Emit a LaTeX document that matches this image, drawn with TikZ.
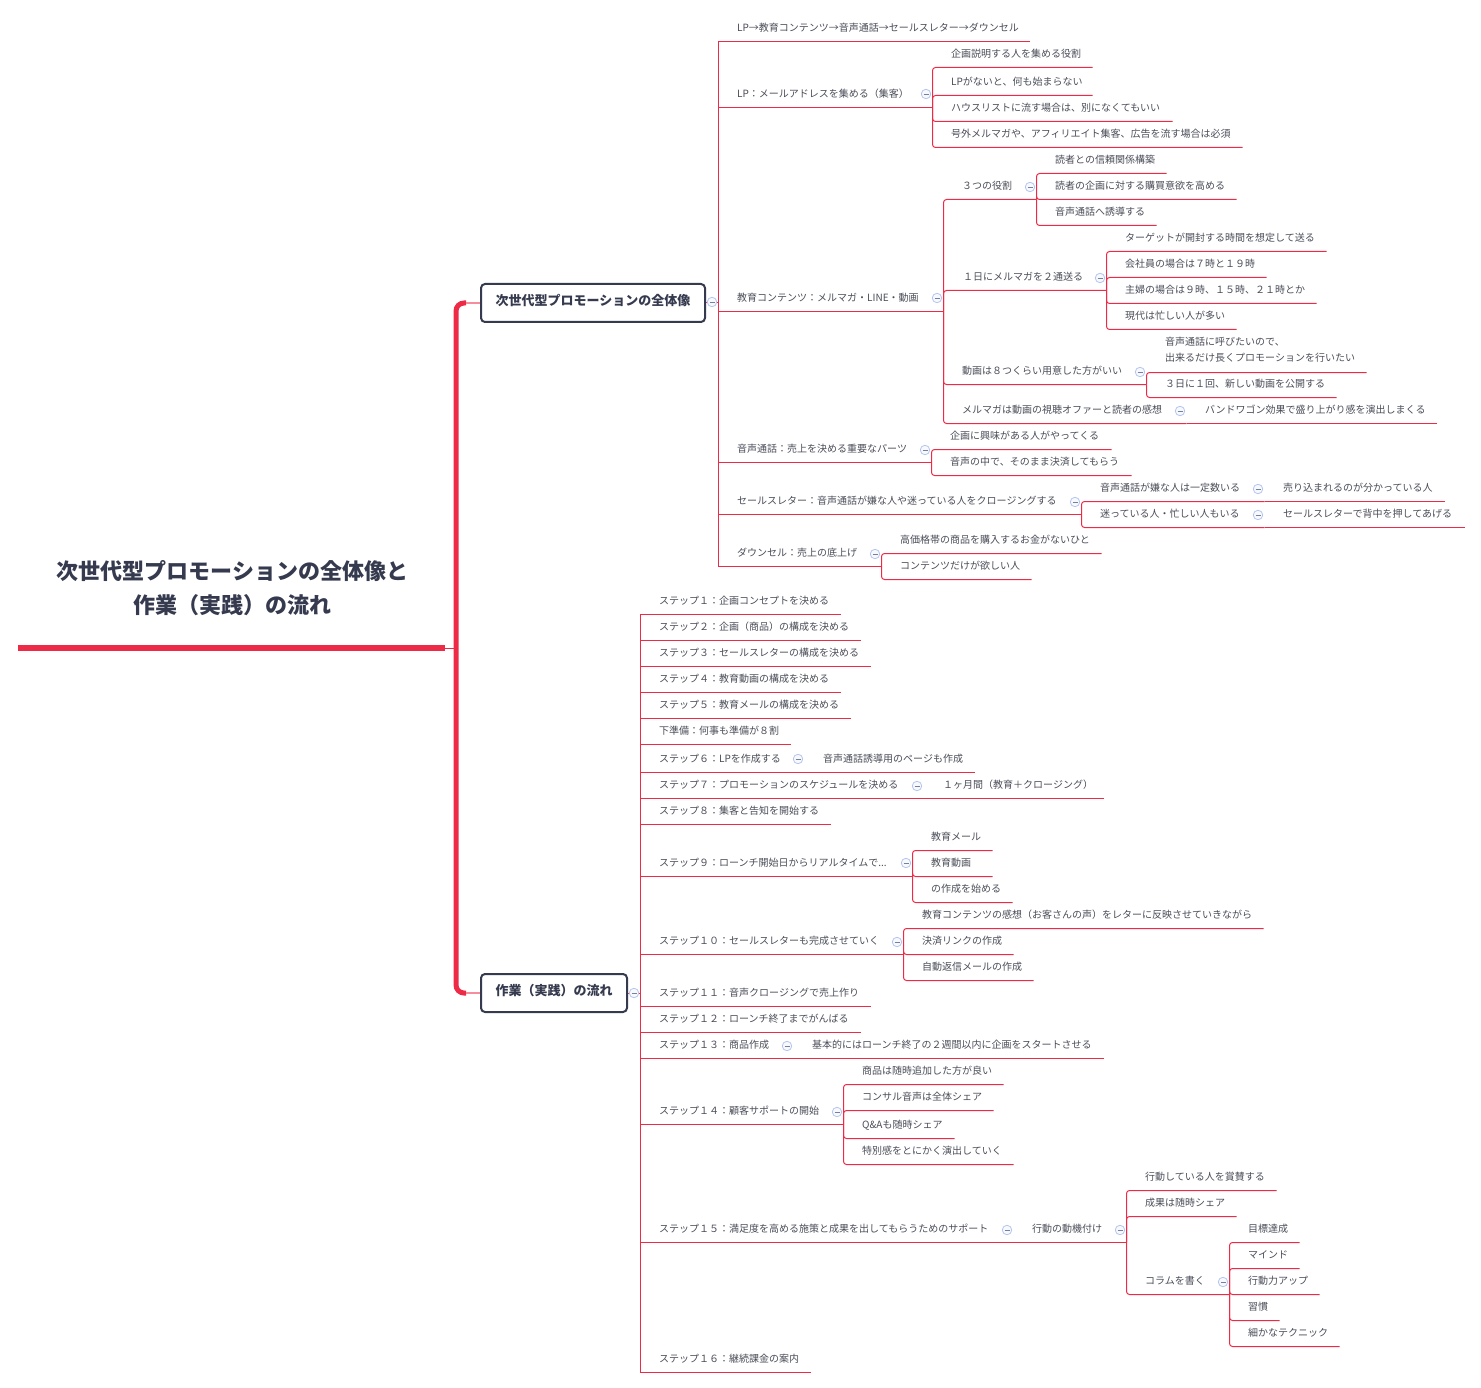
\documentclass[tikz,border=0pt]{standalone}
\usepackage{fontspec}
\setmainfont{Noto Sans CJK JP}
\definecolor{rosered}{HTML}{EE2B47}
\definecolor{rosepale}{HTML}{F68C9C}
\definecolor{slateink}{HTML}{353A4E}
\definecolor{leafink}{HTML}{4A4D58}
\definecolor{foldblue}{HTML}{B4C6EE}
\definecolor{foldfill}{HTML}{F7F9FE}
\tikzset{
	leaf/.style={inner sep=0pt, anchor=base west, yshift=-4.5pt, text=leafink, font=\fontsize{10}{16}\selectfont},
	bus/.style={rosered, line width=1pt},
	branch/.style={bus, rounded corners=3pt},
	bigbox/.style={draw=slateink, line width=2pt, rounded corners=4pt, fill=white, inner sep=0pt, text=slateink, text height=21.5pt, text depth=16.5pt, font=\fontsize{13}{16}\selectfont\bfseries},
	fold/.style={circle, draw=foldblue, fill=foldfill, line width=0.8pt, minimum size=9.5pt, inner sep=0pt, path picture={\draw[foldblue!50!slateink, line width=0.6pt] ([xshift=-2.5pt]path picture bounding box.center) -- ([xshift=2.5pt]path picture bounding box.center);}},
}
\begin{document}
\begin{tikzpicture}[x=1pt, y=-1pt]
	\useasboundingbox (0,0) rectangle (1481,1388);
	% Central topic and its bar
	\node[align=center, text=slateink, font=\fontsize{22}{34}\selectfont\bfseries] (root) at (232.5,588) {次世代型プロモーションの全体像と\\作業（実践）の流れ};
	\coordinate (barl) at (18,648);
	\coordinate (barr) at (445,648);
	\coordinate (trunk) at (456,648);
	\draw[rosered, line width=6pt] (barl) -- (barr);
	\draw[bus] (barr) -- (trunk);
	% The two main topics
	\node[bigbox, minimum width=224pt] (bigA) at (593,303) {次世代型プロモーションの全体像};
	\node[bigbox, minimum width=146pt] (bigB) at (554,993) {作業（実践）の流れ};
	\coordinate (forkA) at (466,303);
	\coordinate (forkB) at (466,993);
	\draw[rosered, line width=5pt, rounded corners=8pt] (trunk) |- (forkA);
	\draw[rosered, line width=5pt, rounded corners=8pt] (trunk) |- (forkB);
	\draw[rosepale, line width=2.5pt] (forkA) -- (bigA);
	\draw[rosepale, line width=2.5pt] (forkB) -- (bigB);
	\coordinate (bigA-e) at (718.5,303);
	\coordinate (bigB-e) at (640,993);
	\draw[bus] (bigA) -- (bigA-e);
	\draw[bus] (bigB) -- (bigB-e);
	% First level, square elbows
	\foreach \id/\up/\tx/\uy/\ex/\txt in {
		flow/bigA/737/41/1030/{LP→教育コンテンツ→音声通話→セールスレター→ダウンセル},
		lp/bigA/737/107/933/{LP：メールアドレスを集める（集客）},
		edu/bigA/737/311/944/{教育コンテンツ：メルマガ・LINE・動画},
		call/bigA/737/462/932/{音声通話：売上を決める重要なパーツ},
		letter/bigA/737/514/1082/{セールスレター：音声通話が嫌な人や迷っている人をクロージングする},
		down/bigA/737/566/882/{ダウンセル：売上の底上げ},
		stepa/bigB/659/614/841/{ステップ１：企画コンセプトを決める},
		stepb/bigB/659/640/861/{ステップ２：企画（商品）の構成を決める},
		stepc/bigB/659/666/871/{ステップ３：セールスレターの構成を決める},
		stepd/bigB/659/692/841/{ステップ４：教育動画の構成を決める},
		stepe/bigB/659/718/851/{ステップ５：教育メールの構成を決める},
		prep/bigB/659/744/791/{下準備：何事も準備が８割},
		stepf/bigB/659/772/805/{ステップ６：LPを作成する},
		stepg/bigB/659/798/924/{ステップ７：プロモーションのスケジュールを決める},
		steph/bigB/659/824/831/{ステップ８：集客と告知を開始する},
		stepi/bigB/659/876/913/{ステップ９：ローンチ開始日からリアルタイムで...},
		stepj/bigB/659/954/904/{ステップ１０：セールスレターも完成させていく},
		stepk/bigB/659/1006/871/{ステップ１１：音声クロージングで売上作り},
		stepl/bigB/659/1032/861/{ステップ１２：ローンチ終了までがんばる},
		stepm/bigB/659/1058/794/{ステップ１３：商品作成},
		stepn/bigB/659/1124/844/{ステップ１４：顧客サポートの開始},
		stepo/bigB/659/1242/1014/{ステップ１５：満足度を高める施策と成果を出してもらうためのサポート},
		stepp/bigB/659/1372/811/{ステップ１６：継続課金の案内},
		stepfa/stepf/823/772/975/{音声通話誘導用のページも作成},
		stepga/stepg/943/798/1104/{１ヶ月間（教育＋クロージング）},
		stepma/stepm/812/1058/1104/{基本的にはローンチ終了の２週間以内に企画をスタートさせる},
		motive/stepo/1032/1242/1127/{行動の動機付け}%
	} {
		\node[leaf] (\id) at (\tx,\uy-14) {\txt};
		\coordinate (\id-e) at (\ex-0.5,\uy+0.5);
		\draw[bus] (\up-e) |- (\id-e);
	}
	% Deeper levels, rounded elbows
	\foreach \id/\up/\tx/\uy/\ex/\txt in {
		lpa/lp/951/67/1093/{企画説明する人を集める役割},
		lpb/lp/951/95/1093/{LPがないと、何も始まらない},
		lpc/lp/951/121/1173/{ハウスリストに流す場合は、別になくてもいい},
		lpd/lp/951/147/1243/{号外メルマガや、アフィリエイト集客、広告を流す場合は必須},
		role/edu/962/199/1037/{３つの役割},
		mail/edu/963/290/1107/{１日にメルマガを２通送る},
		video/edu/962/384/1147/{動画は８つくらい用意した方がいい},
		offer/edu/962/423/1187/{メルマガは動画の視聴オファーと読者の感想},
		rolea/role/1055/173/1167/{読者との信頼関係構築},
		roleb/role/1055/199/1237/{読者の企画に対する購買意欲を高める},
		rolec/role/1055/225/1157/{音声通話へ誘導する},
		maila/mail/1125/251/1327/{ターゲットが開封する時間を想定して送る},
		mailb/mail/1125/277/1267/{会社員の場合は７時と１９時},
		mailc/mail/1125/303/1317/{主婦の場合は９時、１５時、２１時とか},
		maild/mail/1125/329/1237/{現代は忙しい人が多い},
		videob/video/1165/397/1337/{３日に１回、新しい動画を公開する},
		calla/call/950/449/1112/{企画に興味がある人がやってくる},
		callb/call/950/475/1132/{音声の中で、そのまま決済してもらう},
		lettera/letter/1100/501/1265/{音声通話が嫌な人は一定数いる},
		letterb/letter/1100/527/1265/{迷っている人・忙しい人もいる},
		downa/down/900/553/1102/{高価格帯の商品を購入するお金がないひと},
		downb/down/900/579/1032/{コンテンツだけが欲しい人},
		stepia/stepi/931/850/993/{教育メール},
		stepib/stepi/931/876/993/{教育動画},
		stepic/stepi/931/902/1013/{の作成を始める},
		stepja/stepj/922/928/1264/{教育コンテンツの感想（お客さんの声）をレターに反映させていきながら},
		stepjb/stepj/922/954/1014/{決済リンクの作成},
		stepjc/stepj/922/980/1034/{自動返信メールの作成},
		stepna/stepn/862/1084/1004/{商品は随時追加した方が良い},
		stepnb/stepn/862/1110/994/{コンサル音声は全体シェア},
		stepnc/stepn/862/1138/955/{Q\&Aも随時シェア},
		stepnd/stepn/862/1164/1014/{特別感をとにかく演出していく},
		motivea/motive/1145/1190/1277/{行動している人を賞賛する},
		motiveb/motive/1145/1216/1237/{成果は随時シェア},
		column/motive/1145/1294/1230/{コラムを書く},
		columna/column/1248/1242/1300/{目標達成},
		columnb/column/1248/1268/1300/{マインド},
		columnc/column/1248/1294/1320/{行動力アップ},
		columnd/column/1248/1320/1280/{習慣},
		columnf/column/1248/1346/1340/{細かなテクニック}%
	} {
		\node[leaf] (\id) at (\tx,\uy-14) {\txt};
		\coordinate (\id-e) at (\ex-0.5,\uy+0.5);
		\draw[branch] (\up-e) |- (\id-e);
	}
	% Single children running on along the same line
	\foreach \id/\up/\tx/\uy/\ex/\txt in {
		offera/offer/1205/423/1437/{バンドワゴン効果で盛り上がり感を演出しまくる},
		letteraa/lettera/1283/501/1445/{売り込まれるのが分かっている人},
		letterba/letterb/1283/527/1465/{セールスレターで背中を押してあげる}%
	} {
		\node[leaf] (\id) at (\tx,\uy-14) {\txt};
		\coordinate (\id-e) at (\ex-0.5,\uy+0.5);
		\draw[bus] (\up-e) -- (\id-e);
	}
	% The one topic on two lines
	\node[leaf, align=left, anchor=west, yshift=4.5pt] (videoa) at (1165,349.5) {音声通話に呼びたいので、\\出来るだけ長くプロモーションを行いたい};
	\coordinate (videoa-e) at (1366.5,372.5);
	\draw[branch] (video-e) |- (videoa-e);
	% Collapse marks
	\foreach \id/\x/\y in {bigA/712/302, lp/926/94, edu/937/298, role/1030/187, mail/1100/278, video/1140/372, offer/1180/411, call/925/450, letter/1075/502, lettera/1258/489, letterb/1258/515, down/875/554, bigB/634/993, stepf/798/759, stepg/917/786, stepi/906/863, stepj/897/942, stepm/787/1046, stepn/837/1112, stepo/1007/1230, motive/1120/1230, column/1223/1282} {
		\node[fold] (fold\id) at (\x,\y) {};
	}
\end{tikzpicture}
\end{document}
